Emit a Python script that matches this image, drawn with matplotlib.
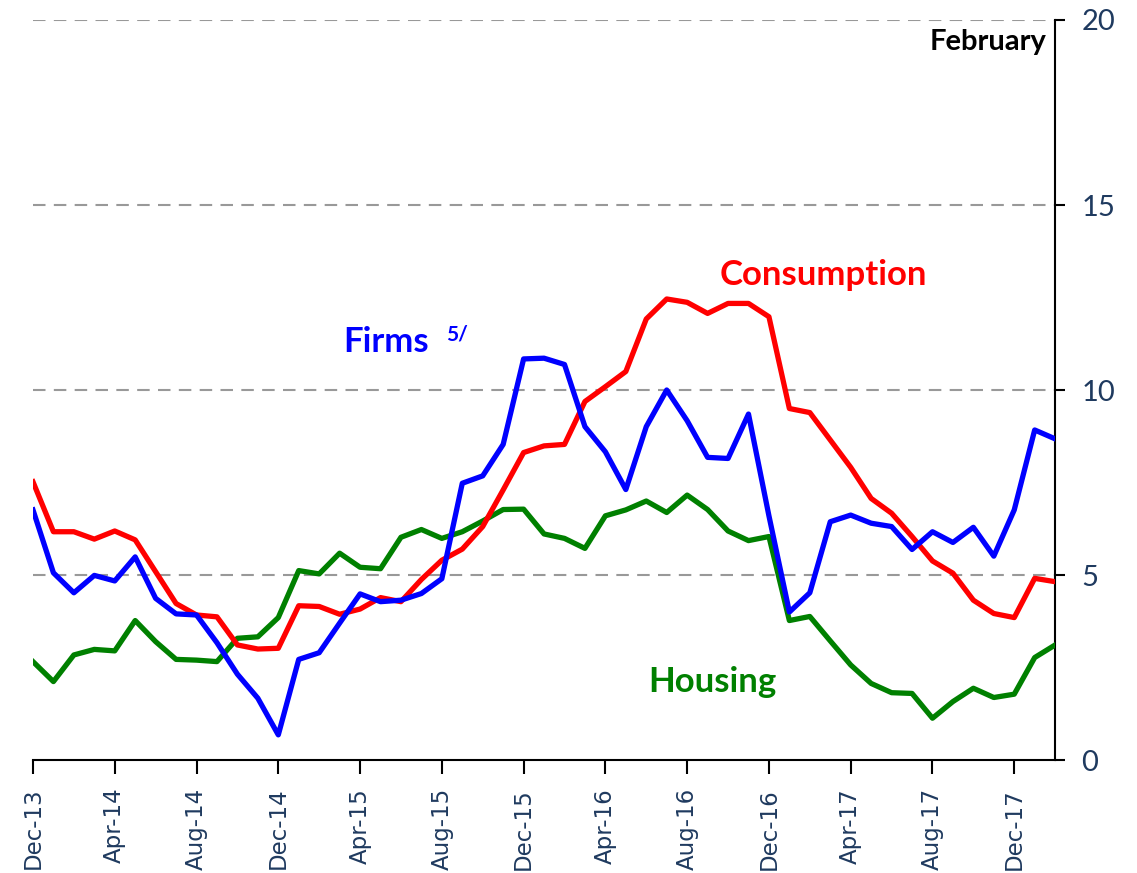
import numpy as np
import matplotlib
matplotlib.use("Agg")
import matplotlib.pyplot as plt

# monthly, Dec-13 .. Feb-18
months = ["Dec-13", "Jan-14", "Feb-14", "Mar-14", "Apr-14", "May-14", "Jun-14", "Jul-14",
          "Aug-14", "Sep-14", "Oct-14", "Nov-14", "Dec-14", "Jan-15", "Feb-15", "Mar-15",
          "Apr-15", "May-15", "Jun-15", "Jul-15", "Aug-15", "Sep-15", "Oct-15", "Nov-15",
          "Dec-15", "Jan-16", "Feb-16", "Mar-16", "Apr-16", "May-16", "Jun-16", "Jul-16",
          "Aug-16", "Sep-16", "Oct-16", "Nov-16", "Dec-16", "Jan-17", "Feb-17", "Mar-17",
          "Apr-17", "May-17", "Jun-17", "Jul-17", "Aug-17", "Sep-17", "Oct-17", "Nov-17",
          "Dec-17", "Jan-18", "Feb-18"]

firms = [6.76, 5.06, 4.52, 4.99, 4.84, 5.49, 4.37, 3.95, 3.92, 3.17, 2.32, 1.67, 0.68,
         2.72, 2.90, 3.70, 4.49, 4.28, 4.32, 4.50, 4.90, 7.48, 7.68, 8.53, 10.84, 10.86,
         10.69, 9.01, 8.33, 7.31, 9.01, 10.00, 9.17, 8.18, 8.15, 9.35, 6.60, 4.00, 4.52,
         6.44, 6.62, 6.40, 6.31, 5.69, 6.17, 5.88, 6.29, 5.51, 6.76, 8.92, 8.68]

consumption = [7.52, 6.17, 6.17, 5.97, 6.19, 5.95, 5.09, 4.23, 3.92, 3.87, 3.11, 3.00,
               3.02, 4.17, 4.15, 3.94, 4.08, 4.39, 4.28, 4.88, 5.40, 5.70, 6.31, 7.30,
               8.31, 8.49, 8.53, 9.69, 10.09, 10.50, 11.92, 12.46, 12.37, 12.07, 12.34,
               12.34, 11.98, 9.50, 9.39, 8.65, 7.91, 7.07, 6.67, 6.04, 5.38, 5.05, 4.32,
               3.96, 3.85, 4.91, 4.82]

housing = [2.66, 2.12, 2.84, 2.99, 2.95, 3.77, 3.20, 2.72, 2.70, 2.66, 3.29, 3.33, 3.85,
           5.12, 5.03, 5.59, 5.21, 5.17, 6.02, 6.23, 5.99, 6.17, 6.46, 6.77, 6.78, 6.11,
           5.99, 5.72, 6.60, 6.76, 7.00, 6.69, 7.16, 6.77, 6.19, 5.93, 6.04, 3.77, 3.88,
           3.22, 2.57, 2.07, 1.82, 1.80, 1.13, 1.58, 1.94, 1.69, 1.78, 2.77, 3.11]

y_ticks = [0, 5, 10, 15, 20]

label_color = "#1f3a5f"
x = np.arange(len(months))

fig = plt.figure(figsize=(11.37, 8.73), dpi=100)
ax = fig.add_axes([0.029, 0.1294, 0.899, 0.8477])

# dashed gridlines
for v in y_ticks[1:]:
    ax.axhline(v, color="#999999", lw=1.5, ls=(0, (6, 4)), zorder=1)

ax.plot(x, housing, color="#008000", lw=3.8, zorder=3)
ax.plot(x, consumption, color="#ff0000", lw=3.8, zorder=3)
ax.plot(x, firms, color="#0000ff", lw=3.8, zorder=4)

ax.set_xlim(0, len(months) - 1)
ax.set_ylim(0, 20)

ax.spines["top"].set_visible(False)
ax.spines["left"].set_visible(False)
ax.spines["right"].set_linewidth(1.5)
ax.spines["bottom"].set_linewidth(1.5)

ax.yaxis.tick_right()
ax.set_yticks(y_ticks)
ax.tick_params(axis="y", direction="out", length=7, width=1.5, pad=12,
               labelsize=21, labelcolor=label_color)
for t in ax.get_yticklabels():
    t.set_family("Lato")

tick_pos = x[::4][:13]
ax.set_xticks(tick_pos)
ax.set_xticklabels([months[i] for i in tick_pos], rotation=90, family="DejaVu Sans",
                   fontsize=16.5, color=label_color)
ax.tick_params(axis="x", direction="out", length=10, width=1.5, pad=10)

ax.text(15.2, 11.3, "Firms", color="#0000ff", fontsize=25, fontweight="bold",
        family="Lato", va="center", ha="left")
ax.text(20.2, 11.5, "5/", color="#0000ff", fontsize=15, fontweight="bold",
        family="Lato", va="center", ha="left")
ax.text(33.6, 13.1, "Consumption", color="#ff0000", fontsize=25, fontweight="bold",
        family="Lato", va="center", ha="left")
ax.text(30.1, 2.1, "Housing", color="#008000", fontsize=25, fontweight="bold",
        family="Lato", va="center", ha="left")
ax.text(49.6, 19.4, "February", color="black", fontsize=21, fontweight="bold",
        family="Lato", va="center", ha="right")

fig.savefig("out.png", dpi=100)
